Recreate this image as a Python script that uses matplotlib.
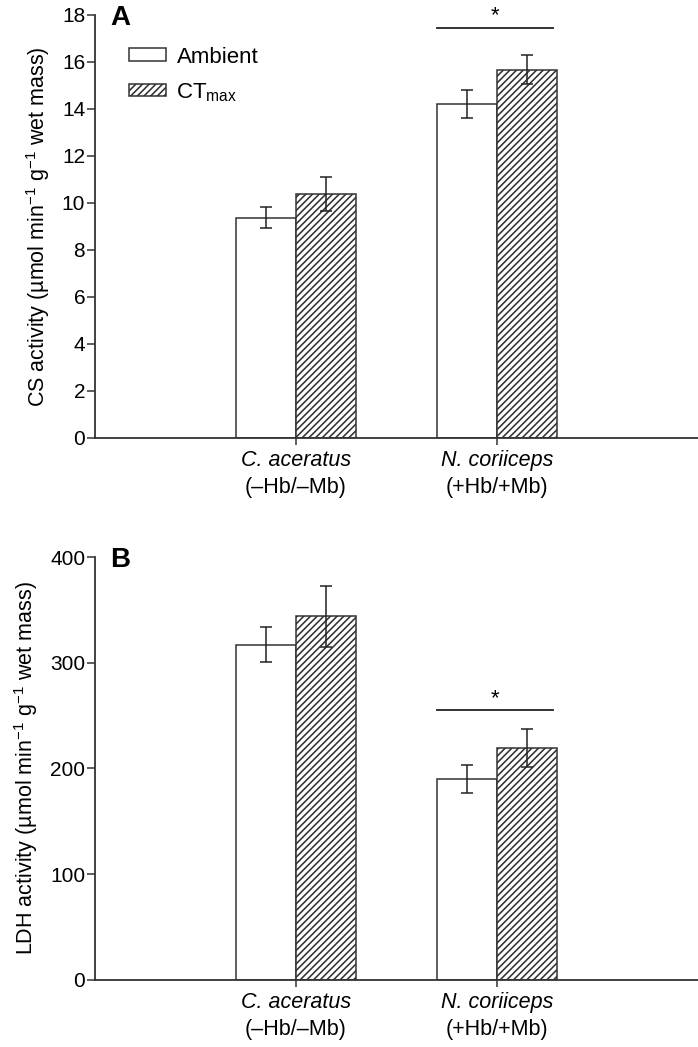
import numpy as np
import matplotlib
matplotlib.use('Agg')
import matplotlib.pyplot as plt

plt.rcParams['font.family'] = ['Liberation Sans', 'DejaVu Sans']
plt.rcParams['mathtext.fontset'] = 'custom'
plt.rcParams['mathtext.rm'] = 'Liberation Sans'
plt.rcParams['mathtext.it'] = 'Liberation Sans:italic'
plt.rcParams['hatch.linewidth'] = 1.15
plt.rcParams['hatch.color'] = '#262626'

# data
species = ['C. aceratus', 'N. coriiceps']
haemo = ['(\u2013Hb/\u2013Mb)', '(+Hb/+Mb)']
groups = ['Ambient', r'CT$_{\mathregular{max}}$']

cs_ambient = [9.38, 14.2]
cs_ambient_err = [0.45, 0.6]
cs_ctmax = [10.38, 15.67]
cs_ctmax_err = [0.72, 0.62]

ldh_ambient = [317, 190]
ldh_ambient_err = [16.5, 13]
ldh_ctmax = [344, 219]
ldh_ctmax_err = [29, 18]

cs_sig = 17.45
ldh_sig = 255

dark = '#333333'

fig = plt.figure(figsize=(6.98, 10.47), dpi=100)
axA = fig.add_axes([0.136, 0.5817, 0.864, 0.4040])
axB = fig.add_axes([0.136, 0.0640, 0.864, 0.4040])

x = np.arange(len(species))
w = 0.3


def draw(ax, amb, amb_err, ctm, ctm_err, ymax, step, ylabel, letter, sig):
    ax.bar(x - w / 2, amb, w, color='white', edgecolor=dark, linewidth=1.1,
           label=groups[0], zorder=2)
    ax.bar(x + w / 2, ctm, w, color='white', edgecolor=dark, linewidth=1.1,
           hatch='/////', label=groups[1], zorder=2)
    ax.errorbar(x - w / 2, amb, yerr=amb_err, fmt='none', ecolor='#222222',
                elinewidth=1.1, capsize=4.5, capthick=1.1, zorder=3)
    ax.errorbar(x + w / 2, ctm, yerr=ctm_err, fmt='none', ecolor='#222222',
                elinewidth=1.1, capsize=4.5, capthick=1.1, zorder=3)
    ax.set_xlim(-1, 2)
    ax.set_ylim(0, ymax)
    ax.set_yticks(np.arange(0, ymax + step / 2, step))
    ax.set_xticks(x)
    ax.set_xticklabels(['', ''])
    for i in range(len(species)):
        ax.annotate(species[i], xy=(x[i], 0), xycoords=('data', 'axes fraction'),
                    xytext=(0, -9), textcoords='offset points', ha='center',
                    va='top', fontsize=15.5, fontstyle='italic')
        ax.annotate(haemo[i], xy=(x[i], 0), xycoords=('data', 'axes fraction'),
                    xytext=(0, -28), textcoords='offset points', ha='center',
                    va='top', fontsize=15.5)
    ax.tick_params(axis='y', labelsize=15, length=6, width=1.1, color=dark, pad=1)
    ax.tick_params(axis='x', length=5, width=1.1, color=dark)
    for s in ['top', 'right']:
        ax.spines[s].set_visible(False)
    for s in ['left', 'bottom']:
        ax.spines[s].set_color(dark)
        ax.spines[s].set_linewidth(1.3)
    ax.set_ylabel(ylabel, fontsize=15.5, labelpad=7)
    ax.text(0.025, 0.993, letter, transform=ax.transAxes, fontsize=20,
            fontweight='bold', va='center', ha='left')
    # significance bar
    ax.plot([0.70, 1.28], [sig, sig], color='#222222', lw=1.3, clip_on=False)
    ax.annotate('*', xy=(0.99, sig), xytext=(0, 4.5), textcoords='offset points',
                ha='center', va='baseline', fontsize=16, annotation_clip=False)


draw(axA, cs_ambient, cs_ambient_err, cs_ctmax, cs_ctmax_err, 18, 2,
     'CS activity (\u00b5mol min$^{\\mathregular{\u22121}}$ g$^{\\mathregular{\u22121}}$ wet mass)',
     'A', cs_sig)
draw(axB, ldh_ambient, ldh_ambient_err, ldh_ctmax, ldh_ctmax_err, 400, 100,
     'LDH activity (\u00b5mol min$^{\\mathregular{\u22121}}$ g$^{\\mathregular{\u22121}}$ wet mass)',
     'B', ldh_sig)

axA.legend(loc='upper left', bbox_to_anchor=(0.056, 0.925), frameon=False,
           fontsize=16, handlelength=1.7, handleheight=0.5, handletextpad=0.45,
           labelspacing=0.6, borderpad=0, borderaxespad=0)

fig.savefig('out.png', dpi=100)
